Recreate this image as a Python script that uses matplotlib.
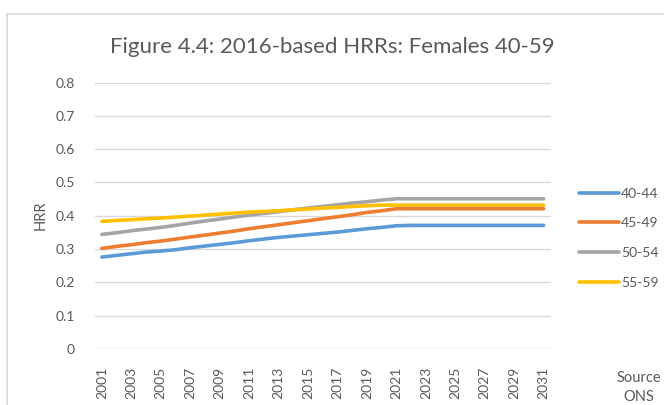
import matplotlib
matplotlib.use('Agg')
import matplotlib.pyplot as plt
from matplotlib.patches import Rectangle

plt.rcParams['font.family'] = ['Lato', 'DejaVu Sans']

years = list(range(2001, 2032))
tick_years = [str(y) for y in range(2001, 2032, 2)]

age_40_44 = [0.276, 0.281, 0.286, 0.291, 0.294, 0.298, 0.304, 0.309, 0.314, 0.319,
             0.325, 0.330, 0.335, 0.339, 0.343, 0.347, 0.351, 0.356, 0.361, 0.365,
             0.370] + [0.371] * 10
age_45_49 = [0.302, 0.308, 0.313, 0.319, 0.324, 0.330, 0.336, 0.342, 0.348, 0.354,
             0.361, 0.367, 0.373, 0.379, 0.385, 0.391, 0.397, 0.403, 0.410, 0.415,
             0.421] + [0.421] * 10
age_50_54 = [0.344, 0.349, 0.355, 0.360, 0.365, 0.371, 0.378, 0.384, 0.390, 0.396,
             0.402, 0.407, 0.412, 0.418, 0.423, 0.428, 0.433, 0.438, 0.442, 0.447,
             0.451] + [0.451] * 10
age_55_59 = [0.383, 0.386, 0.388, 0.391, 0.393, 0.396, 0.399, 0.402, 0.405, 0.408,
             0.411, 0.413, 0.415, 0.418, 0.420, 0.423, 0.425, 0.428, 0.430, 0.432,
             0.432] + [0.432] * 10

series = [('40-44', age_40_44, '#5B9BD5'),
          ('45-49', age_45_49, '#ED7D31'),
          ('50-54', age_50_54, '#A5A5A5'),
          ('55-59', age_55_59, '#FFC000')]

W, H = 664, 405
fig = plt.figure(figsize=(W / 100, H / 100), dpi=100)

# chart area border (cut off at right/bottom like the screenshot)
fig.patches.append(Rectangle((7 / W, -0.1), 1.2, 1.1 - 14 / H, transform=fig.transFigure,
                             fill=False, edgecolor='#D9D9D9', linewidth=1.2))

ax = fig.add_axes([94.5 / W, 1 - 349 / H, (551 - 94.5) / W, (349 - 82.5) / H])

x = list(range(len(years)))
for label, vals, col in series:
    ax.plot(x, vals, color=col, linewidth=2.6, label=label, solid_capstyle='round')

ax.set_xlim(-0.5, len(years) - 0.5)
ax.set_ylim(0, 0.8)
ax.set_yticks([i / 10 for i in range(9)])
ax.set_yticklabels(['0'] + [f'{i / 10:.1f}' for i in range(1, 9)])
ax.set_xticks(x[::2])
ax.set_xticklabels(tick_years, rotation=90)
ax.grid(axis='y', color='#D9D9D9', linewidth=1)
ax.set_axisbelow(True)
for s in ax.spines.values():
    s.set_visible(False)
ax.tick_params(length=0, colors='#595959', labelsize=10)
ax.tick_params(axis='y', pad=14)
ax.tick_params(axis='x', pad=13)

ax.set_ylabel('HRR', color='#595959', fontsize=10.5, labelpad=6)
fig.text(0.5, 1 - 47 / H, 'Figure 4.4: 2016-based HRRs: Females 40-59',
         ha='center', va='center', fontsize=16, color='#595959')

ax.legend(loc='upper left', bbox_to_anchor=(566 / W, 1 - 175 / H), bbox_transform=fig.transFigure,
          frameon=False, handlelength=2.9, handletextpad=0.15, labelspacing=1.28,
          fontsize=10, labelcolor='#595959')

fig.text(639 / W, 1 - 371 / H, 'Source\nONS', ha='center', va='top',
         fontsize=10.5, color='#595959', linespacing=1.45)

fig.savefig('out.png', dpi=100)
